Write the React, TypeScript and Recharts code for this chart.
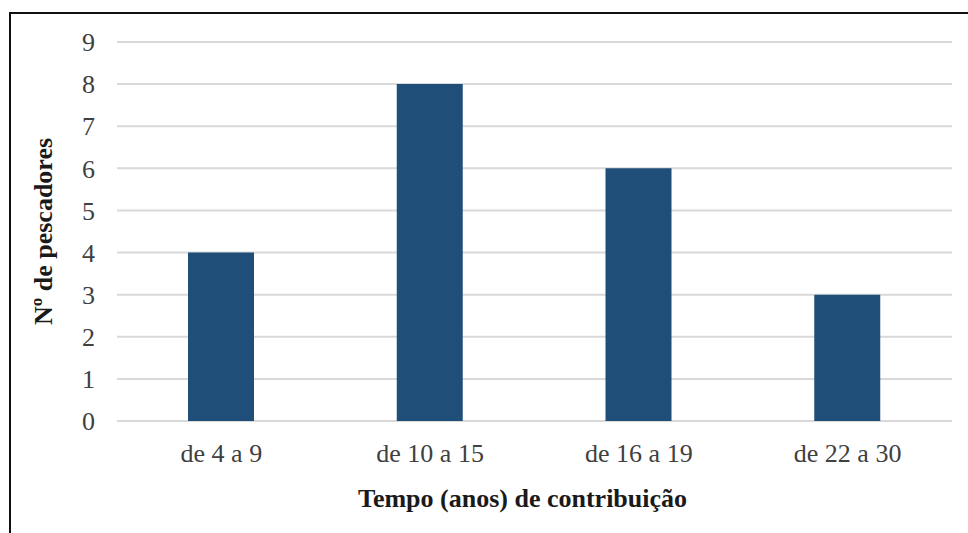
import React from "react";
import { BarChart, Bar, XAxis, YAxis, CartesianGrid, Label } from "recharts";

const categories = ["de 4 a 9", "de 10 a 15", "de 16 a 19", "de 22 a 30"];
const pescadores = [4, 8, 6, 3];
const yTicks = [0, 1, 2, 3, 4, 5, 6, 7, 8, 9];

const data = categories.map((c, i) => ({ faixa: c, n: pescadores[i] }));

const FONT = '"Liberation Serif", "Times New Roman", serif';

export default function App() {
    return (
        <div style={{ position: "fixed", left: 0, top: 0, width: 968, height: 533, background: "#fff", fontFamily: FONT }}>
            {/* partial frame around the chart, cut at right and bottom */}
            <div style={{ position: "absolute", left: 9, top: 12, right: 0, bottom: 0, borderTop: "2.5px solid #111", borderLeft: "2.5px solid #111" }} />
            <BarChart width={968} height={533} data={data} margin={{ top: 42, right: 16, left: 0, bottom: 0 }} style={{ position: "absolute", left: 0, top: 0 }}>
                <CartesianGrid vertical={false} stroke="#d9d9d9" strokeWidth={2} />
                <XAxis
                    dataKey="faixa"
                    axisLine={false}
                    tickLine={false}
                    tickSize={0}
                    tickMargin={23}
                    height={112}
                    interval={0}
                    tick={{ fill: "#404040", fontSize: 26, fontFamily: FONT }}
                >
                    <Label value="Tempo (anos) de contribuição" position="insideBottom" offset={26} dx={-12}
                        style={{ fill: "#1a1a1a", fontSize: 26, fontWeight: "bold", fontFamily: FONT }} />
                </XAxis>
                <YAxis
                    width={117}
                    domain={[0, 9]}
                    ticks={yTicks}
                    interval={0}
                    axisLine={false}
                    tickLine={false}
                    tickSize={0}
                    tickMargin={22}
                    tick={{ fill: "#404040", fontSize: 26, fontFamily: FONT }}
                >
                    <Label value="Nº de pescadores" angle={-90} position="insideLeft" offset={43}
                        style={{ textAnchor: "middle", fill: "#1a1a1a", fontSize: 26, fontWeight: "bold", fontFamily: FONT }} />
                </YAxis>
                <Bar dataKey="n" fill="#1f4e79" barSize={66} isAnimationActive={false} />
            </BarChart>
        </div>
    );
}
